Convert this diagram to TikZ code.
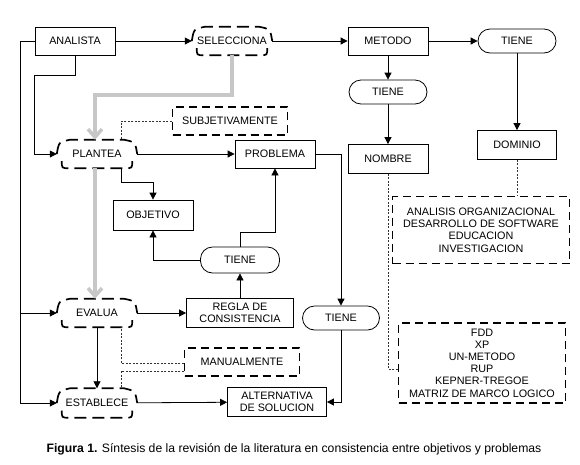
\documentclass[tikz,border=0pt]{standalone}
\usepackage{fontspec}
\setmainfont{Liberation Sans}
\usetikzlibrary{calc, arrows.meta}

\tikzset{
	box/.style={draw, line width=0.8pt, minimum width=80pt, minimum height=28pt, inner sep=1pt, align=center},
	pill/.style={draw, line width=0.8pt, rounded corners=12pt, minimum width=78pt, minimum height=24pt, inner sep=1pt},
	note/.style={draw, line width=1.2pt, dash pattern=on 8pt off 5pt, minimum height=28pt, inner sep=3pt, align=center},
	act/.style={minimum width=80pt, minimum height=28pt, inner sep=1pt},
	cloud/.style={line width=1.7pt, dash pattern=on 12pt off 6pt},
	arr/.style={line width=0.8pt, -{Triangle[length=7pt, width=7pt]}},
	dotline/.style={line width=0.6pt, black!80, dash pattern=on 2pt off 1.5pt},
	grayarr/.style={line width=3.5pt, black!22, -{Straight Barb[length=8pt, width=14pt]}}
}

% dashed outline of the action nodes
\newcommand{\actline}[1]{%
	\draw [cloud] (#1.west) .. controls ($(#1.west)+(2,-12)$) .. ($(#1.north west)+(13,0)$) -- ($(#1.north east)+(-13,0)$) .. controls ($(#1.east)+(-2,-12)$) .. (#1.east);
	\draw [cloud] ($(#1.south west)+(5,-7)$) .. controls ($(#1.south west)+(5,0)$) .. ($(#1.south west)+(12,0)$) -- ($(#1.south east)+(-12,0)$) .. controls ($(#1.south east)+(-5,0)$) .. ($(#1.south east)+(-5,-7)$);
}

\begin{document}
\begin{tikzpicture}[x=1pt, y=-1pt, font=\fontsize{10.8}{12.2}\selectfont]
		\useasboundingbox (0,0) rectangle (580,464);
		
		\node [box] (analista) at (75,41) {ANALISTA};
		\node [act] (selecciona) at (232,41) {SELECCIONA};
		\node [box] (metodo) at (388,41) {METODO};
		\node [pill] (tieneA) at (517,41) {TIENE};
		\node [pill] (tieneB) at (388,92) {TIENE};
		\node [box, minimum height=29pt] (nombre) at (388,159) {NOMBRE};
		\node [box, minimum width=79pt, minimum height=29pt] (dominio) at (517,145) {DOMINIO};
		\node [note, minimum width=177pt, minimum height=67pt] (areas) at (481,230) {ANALISIS ORGANIZACIONAL\\DESARROLLO DE SOFTWARE\\EDUCACION\\INVESTIGACION};
		\node [note, minimum width=167pt, minimum height=80pt] (metodos) at (482,363) {FDD\\XP\\UN-METODO\\RUP\\KEPNER-TREGOE\\MATRIZ DE MARCO LOGICO};
		
		\node [act] (plantea) at (97,154) {PLANTEA};
		\node [note, minimum width=115pt] (subjetiv) at (230,121) {SUBJETIVAMENTE};
		\node [box] (problema) at (275,154) {PROBLEMA};
		\node [box, minimum height=30pt] (objetivo) at (153,215) {OBJETIVO};
		\node [pill, minimum width=79pt, minimum height=26pt] (tieneC) at (240,260) {TIENE};
		\node [act] (evalua) at (97,313) {EVALUA};
		\node [box, minimum width=107pt, minimum height=29pt] (regla) at (240,313) {REGLA DE\\CONSISTENCIA};
		\node [pill, minimum width=77pt] (tieneD) at (341,318) {TIENE};
		\node [note, minimum width=115pt] (manual) at (242,362) {MANUALMENTE};
		\node [act, minimum height=29pt] (establece) at (97,403) {ESTABLECE};
		\node [box, minimum width=99pt, minimum height=29pt] (alternativa) at (277,402) {ALTERNATIVA\\DE SOLUCION};
		
		\actline{selecciona}
		\actline{plantea}
		\actline{evalua}
		\actline{establece}
		
		\draw [grayarr] (selecciona.south) -- ++(0,40) -| ([xshift=-2pt]plantea.north);
		\draw [grayarr] ([xshift=-2pt]plantea.south) -- ([xshift=-2pt]evalua.north);
		
		\draw [arr] (analista) -- (selecciona);
		\draw [arr] (selecciona) -- (metodo);
		\draw [arr] (metodo) -- (tieneA);
		\draw [arr] (tieneA) -- (dominio);
		\draw [arr] (metodo) -- (tieneB);
		\draw [arr] (tieneB) -- (nombre);
		\draw [dotline] (dominio.south) -- (dominio.south |- areas.north);
		\draw [dotline] (nombre.south) |- ([yshift=-6pt]metodos.west);
		
		\coordinate (spine) at ($(analista.west)+(-14,0)$);
		\draw [arr] (analista.west) -- (spine) |- (establece.west);
		\draw [arr] (spine |- evalua.west) -- (evalua.west);
		\draw [arr] (analista.south) -- ++(0,20) -| ([xshift=-22pt]plantea.west) -- (plantea.west);
		
		\draw [dotline] (subjetiv.west) -| ([xshift=24pt]plantea.north);
		\draw [arr] (plantea) -- (problema);
		\draw [arr] ([xshift=24pt]plantea.south) -- ++(0,14) -| (objetivo.north);
		\draw [arr] (tieneC.west) -| (objetivo.south);
		\draw [arr] (tieneC.north) -- ++(0,-14) -| (problema.south);
		\draw [arr] (regla) -- (tieneC);
		\draw [arr] (evalua) -- (regla);
		\draw [arr] (problema.east) -| (tieneD.north);
		\draw [arr] (tieneD.south) |- (alternativa.east);
		\draw [arr] (evalua) -- (establece);
		\draw [dotline] ([yshift=-1pt]manual.west) -| ([xshift=24pt]evalua.south);
		\draw [dotline] ([yshift=-9pt]manual.west) -| ([xshift=24pt]establece.north);
		\draw [arr] (establece) -- (alternativa);
		
		\node (caption) at (294,449) {\fontsize{12.2}{14}\selectfont\textbf{Figura 1.} Síntesis de la revisión de la literatura en consistencia entre objetivos y problemas};
	\end{tikzpicture}
\end{document}
